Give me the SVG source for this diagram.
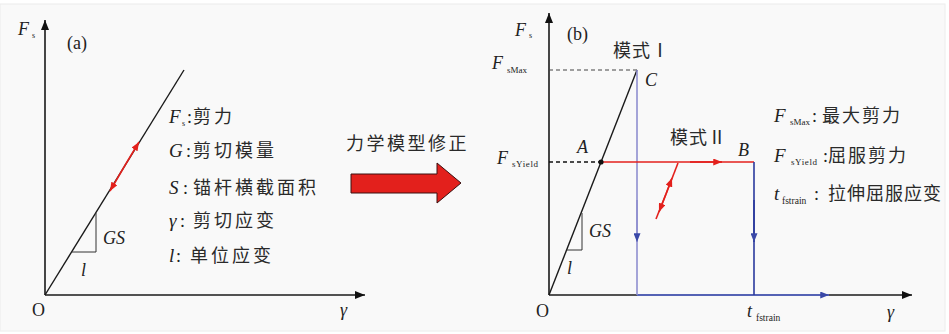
<svg xmlns="http://www.w3.org/2000/svg" width="949" height="334" viewBox="0 0 949 334">
<defs>
<style>
.it{font-family:"Liberation Serif","DejaVu Serif","Times New Roman",serif;font-style:italic;fill:#222}
.rm{font-family:"Liberation Serif","DejaVu Serif","Times New Roman",serif;fill:#222}
.sub{font-family:"Liberation Serif","DejaVu Serif","Times New Roman",serif;fill:#222}
.cjk{font-family:"Noto Sans CJK SC","Noto Sans CJK JP",sans-serif;fill:#2a2a2a;font-size:18px}
.ax{stroke:#1a1a1a;stroke-width:1.6;fill:none}
.ln{stroke:#1a1a1a;stroke-width:1.4;fill:none}
.thin{stroke:#333;stroke-width:1;fill:none}
.red{stroke:#e3201c;stroke-width:1.6;fill:none}
</style>
<marker id="ahk" viewBox="0 0 10 8" refX="10" refY="4" markerWidth="10" markerHeight="8" markerUnits="userSpaceOnUse" orient="auto"><path d="M0,0L10,4L0,8z" fill="#111"/></marker>
<marker id="ahb" viewBox="0 0 10 8" refX="10" refY="4" markerWidth="9" markerHeight="7" markerUnits="userSpaceOnUse" orient="auto"><path d="M0,0L10,4L0,8z" fill="#3a48a8"/></marker>
<marker id="ahr" viewBox="0 0 10 8" refX="10" refY="4" markerWidth="9" markerHeight="7" markerUnits="userSpaceOnUse" orient="auto"><path d="M0,0L10,4L0,8z" fill="#e3201c"/></marker>
</defs>
<rect x="0" y="0" width="949" height="334" fill="#ffffff"/>
<rect x="0" y="4" width="945" height="327" fill="#f9f9f9" stroke="#ececec" stroke-width="1"/>

<g id="connectors">
<line class="ax" x1="45" y1="295" x2="45" y2="20" marker-end="url(#ahk)"/>
<line class="ax" x1="45" y1="295" x2="365" y2="295" marker-end="url(#ahk)"/>
<line class="ln" x1="45" y1="295" x2="184" y2="70"/>
<polyline class="thin" points="71.5,252 96,252 96,213"/>
<line class="red" x1="124" y1="167" x2="139" y2="142" marker-end="url(#ahr)"/>
<line class="red" x1="124" y1="167" x2="110" y2="191" marker-end="url(#ahr)"/>
<line class="ax" x1="549" y1="295" x2="549" y2="13" marker-end="url(#ahk)"/>
<line class="ax" x1="549" y1="295" x2="912" y2="295" marker-end="url(#ahk)"/>
<line x1="637" y1="295" x2="829" y2="295" stroke="#5563b5" stroke-width="1.8" marker-end="url(#ahb)"/>
<line class="ln" x1="549" y1="295" x2="637" y2="70"/>
<line x1="549" y1="70" x2="637" y2="70" stroke="#444" stroke-width="1.2" stroke-dasharray="4,3"/>
<line x1="549" y1="162" x2="601" y2="162" stroke="#111" stroke-width="1.4" stroke-dasharray="4,3"/>
<line x1="637" y1="70" x2="637" y2="295" stroke="#8f8fd0" stroke-width="1.6"/>
<line x1="637" y1="200" x2="637" y2="242" stroke="#8f8fd0" stroke-width="1.6" marker-end="url(#ahb)"/>
<line class="red" x1="601" y1="162" x2="754" y2="162"/>
<line class="red" x1="690" y1="162" x2="722" y2="162" marker-end="url(#ahr)"/>
<line x1="754" y1="162" x2="754" y2="295" stroke="#2b3a9e" stroke-width="1.6"/>
<line x1="754" y1="200" x2="754" y2="242" stroke="#2b3a9e" stroke-width="1.6" marker-end="url(#ahb)"/>
<line class="red" x1="678" y1="163" x2="666" y2="194"/>
<line class="red" x1="666" y1="194" x2="672" y2="178" marker-end="url(#ahr)"/>
<line class="red" x1="666" y1="194" x2="656" y2="219"/>
<line class="red" x1="666" y1="194" x2="659" y2="212" marker-end="url(#ahr)"/>
<polyline class="thin" points="566.6,250 582,250 582,213"/>
<circle cx="601" cy="162" r="2.6" fill="#111"/>
</g>

<g id="panel-a-labels">
<text class="it" x="18" y="35" font-size="18">F</text><text class="sub" x="32" y="38" font-size="8">s</text>
<text class="rm" x="67" y="49" font-size="18">(a)</text>
<text class="rm" x="32" y="316" font-size="18">O</text>
<text class="it" x="340" y="316" font-size="18">γ</text>
<text class="it" x="103" y="244" font-size="18">GS</text>
<text class="it" x="81" y="276" font-size="18">l</text>
</g>

<g id="legend-a">
<text class="it" x="169" y="123" font-size="19">F</text><text class="sub" x="182" y="126" font-size="8">s</text><text class="rm" x="187" y="123" font-size="18">:</text>
<text class="cjk" x="193" y="123" style="letter-spacing:3px">剪力</text>
<text class="it" x="169" y="157" font-size="19">G</text><text class="rm" x="186" y="157" font-size="18">:</text>
<text class="cjk" x="193" y="157" style="letter-spacing:3px">剪切模量</text>
<text class="it" x="169" y="194" font-size="19">S</text><text class="rm" x="183" y="194" font-size="18">:</text>
<text class="cjk" x="193" y="194" style="letter-spacing:3px">锚杆横截面积</text>
<text class="it" x="169" y="227" font-size="19">γ</text><text class="rm" x="180" y="227" font-size="18">:</text>
<text class="cjk" x="193" y="227" style="letter-spacing:3px">剪切应变</text>
<text class="it" x="169" y="262" font-size="19">l</text><text class="rm" x="176" y="262" font-size="18">:</text>
<text class="cjk" x="190" y="262" style="letter-spacing:3px">单位应变</text>
</g>

<g id="transform-arrow">
<text class="cjk" x="346" y="150" style="letter-spacing:2.5px">力学模型修正</text>
<path d="M351,174H437V163L461,183L437,203V193H351Z" fill="#e3201c" stroke="#3a1010" stroke-width="1"/>
</g>

<g id="panel-b-labels">
<text class="it" x="515" y="36" font-size="18">F</text><text class="sub" x="529" y="38" font-size="8">s</text>
<text class="rm" x="567" y="40" font-size="18">(b)</text>
<text class="it" x="492" y="69" font-size="18">F</text><text class="sub" x="507" y="73" font-size="9">sMax</text>
<text class="it" x="497" y="164" font-size="18">F</text><text class="sub" x="512" y="167" font-size="9" style="letter-spacing:0.6px">sYield</text>
<text class="rm" x="536" y="317" font-size="18">O</text>
<text class="it" x="887" y="318" font-size="18">γ</text>
<text class="it" x="747" y="317" font-size="18">t</text><text class="sub" x="756" y="321" font-size="9.5">fstrain</text>
<text class="it" x="645" y="86" font-size="18">C</text>
<text class="it" x="577" y="153" font-size="18">A</text>
<text class="it" x="738" y="156" font-size="18">B</text>
<text class="it" x="589" y="237" font-size="18">GS</text>
<text class="it" x="567" y="274" font-size="18">l</text>
<text class="cjk" x="613" y="57" style="letter-spacing:1px">模式Ⅰ</text>
<text class="cjk" x="670" y="144" style="letter-spacing:1px">模式Ⅱ</text>
</g>

<g id="legend-b">
<text class="it" x="774" y="122" font-size="19">F</text><text class="sub" x="790" y="125" font-size="9">sMax</text><text class="rm" x="812" y="122" font-size="18">:</text>
<text class="cjk" x="822" y="122" style="letter-spacing:2px">最大剪力</text>
<text class="it" x="774" y="162" font-size="19">F</text><text class="sub" x="791" y="165" font-size="9" style="letter-spacing:0.6px">sYield</text><text class="rm" x="823" y="162" font-size="18">:</text>
<text class="cjk" x="828" y="162" style="letter-spacing:2px">屈服剪力</text>
<text class="it" x="774" y="200" font-size="19">t</text><text class="sub" x="782" y="204" font-size="9.5">fstrain</text><text class="rm" x="814" y="200" font-size="18">:</text>
<text class="cjk" x="828" y="200" style="letter-spacing:1px">拉伸屈服应变</text>
</g>
</svg>
